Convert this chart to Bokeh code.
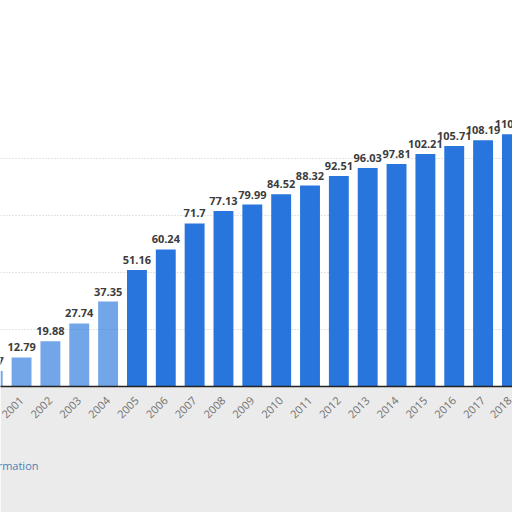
from bokeh.plotting import figure
from bokeh.models import Range1d, FixedTicker, Title, ColumnDataSource
from bokeh.core.properties import value
from bokeh.embed import file_html
from bokeh.resources import INLINE

years = [2000, 2001, 2002, 2003, 2004, 2005, 2006, 2007, 2008, 2009,
         2010, 2011, 2012, 2013, 2014, 2015, 2016, 2017, 2018]
values = [6.77, 12.79, 19.88, 27.74, 37.35, 51.16, 60.24, 71.7, 77.13, 79.99,
          84.52, 88.32, 92.51, 96.03, 97.81, 102.21, 105.71, 108.19, 110.83]
labels = ["6.77", "12.79", "19.88", "27.74", "37.35", "51.16", "60.24", "71.7",
          "77.13", "79.99", "84.52", "88.32", "92.51", "96.03", "97.81",
          "102.21", "105.71", "108.19", "110.83"]
grid_ticks = [0, 25, 50, 75, 100]

bar_alpha = [0.65 if y <= 2004 else 1.0 for y in years]

src = ColumnDataSource(dict(x=years, top=values, lab=labels, alpha=bar_alpha))

p = figure(width=512, height=512, output_backend="svg", toolbar_location=None,
           x_range=Range1d(2000.27, 2018.02), y_range=Range1d(0, 169.67),
           min_border_left=0, min_border_right=0, min_border_top=0,
           min_border_bottom=126)
p.outline_line_color = None
p.background_fill_color = "white"
p.border_fill_color = "#ebebeb"

p.vbar(x="x", top="top", width=0.69, bottom=0, source=src,
       fill_color="#2876dd", line_color=None, fill_alpha="alpha")

p.text(x="x", y="top", text="lab", source=src, y_offset=-6,
       text_align="center", text_baseline="bottom",
       text_font=value("Open Sans"), text_font_size="11px",
       text_font_style="bold", text_color="#3c3c3c")

p.yaxis.visible = False
p.ygrid.ticker = FixedTicker(ticks=grid_ticks)
p.ygrid.grid_line_color = "#c8c8c8"
p.ygrid.grid_line_dash = "1 2"
p.xgrid.visible = False

p.xaxis.ticker = FixedTicker(ticks=years)
p.xaxis.major_label_orientation = 0.785
p.xaxis.major_label_text_font = "Open Sans"
p.xaxis.major_label_text_font_size = "11px"
p.xaxis.major_label_text_color = "#707070"
p.xaxis.major_tick_line_color = None
p.xaxis.minor_tick_line_color = None
p.xaxis.axis_line_color = "#222222"
p.xaxis.axis_line_width = 1.5
p.xaxis.major_label_standoff = 6

p.add_layout(Title(text="Additional Information", align="left", offset=-78,
                   standoff=63, text_font="Open Sans", text_font_size="11px",
                   text_font_style="normal", text_color="#4a7fb5"), "below")

open("out.html", "w").write(file_html(p, INLINE))
